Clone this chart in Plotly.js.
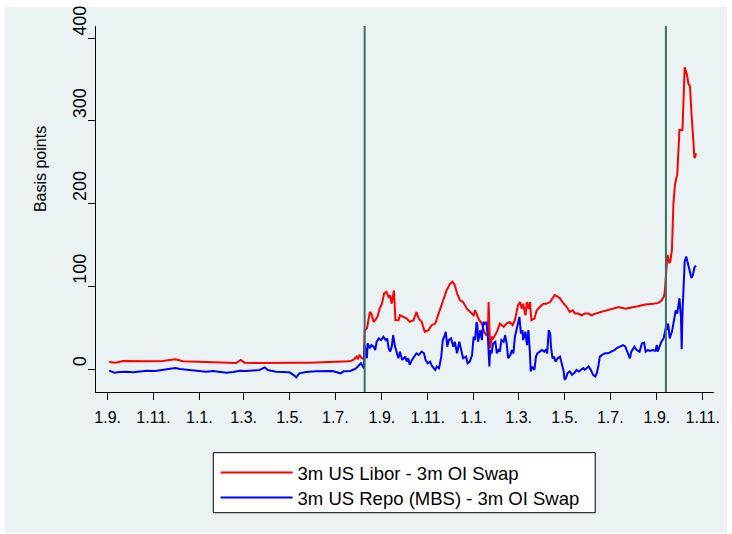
<!DOCTYPE html>
<html>
<head>
<meta charset="utf-8">
<script src="https://cdn.plot.ly/plotly-3.0.1.min.js"></script>
<style>html,body{margin:0;padding:0;background:#fff;}#chart{width:732px;height:534px;}</style>
</head>
<body>
<div id="chart"></div>
<script>
// ---- data (basis points) ----
const liborDates = [
 '2006-09-03','2006-09-12','2006-09-21','2006-10-09','2006-10-26','2006-11-13','2006-11-30','2006-12-10','2006-12-28','2007-01-14',
 '2007-02-01','2007-02-19','2007-02-25','2007-03-02','2007-03-17','2007-04-04','2007-04-22','2007-05-10','2007-05-27','2007-06-14',
 '2007-07-02','2007-07-20','2007-07-26','2007-07-29','2007-07-31','2007-08-02','2007-08-05','2007-08-08','2007-08-09','2007-08-12',
 '2007-08-14','2007-08-16','2007-08-18','2007-08-21','2007-08-23','2007-08-26','2007-08-29','2007-09-01','2007-09-04','2007-09-07',
 '2007-09-10','2007-09-12','2007-09-14','2007-09-17','2007-09-19','2007-09-23','2007-09-25','2007-09-29','2007-10-04','2007-10-08',
 '2007-10-13','2007-10-17','2007-10-20','2007-10-24','2007-10-28','2007-11-02','2007-11-06','2007-11-11','2007-11-15','2007-11-19',
 '2007-11-22','2007-11-26','2007-12-01','2007-12-04','2007-12-07','2007-12-10','2007-12-14','2007-12-18','2007-12-23','2007-12-27',
 '2008-01-01','2008-01-03','2008-01-05','2008-01-08','2008-01-12','2008-01-15','2008-01-18','2008-01-20','2008-01-21','2008-01-22',
 '2008-01-23','2008-01-25','2008-01-27','2008-02-01','2008-02-05','2008-02-10','2008-02-14','2008-02-18','2008-02-22','2008-02-25',
 '2008-02-29','2008-03-03','2008-03-05','2008-03-07','2008-03-10','2008-03-12','2008-03-14','2008-03-16','2008-03-18','2008-03-22',
 '2008-03-25','2008-03-29','2008-04-03','2008-04-07','2008-04-12','2008-04-15','2008-04-18','2008-04-21','2008-04-25','2008-04-30',
 '2008-05-04','2008-05-08','2008-05-12','2008-05-15','2008-05-19','2008-05-24','2008-05-28','2008-06-02','2008-06-06','2008-06-11',
 '2008-06-15','2008-06-24','2008-07-03','2008-07-12','2008-07-21','2008-07-29','2008-08-07','2008-08-16','2008-08-25','2008-09-03',
 '2008-09-07','2008-09-10','2008-09-11','2008-09-12','2008-09-14','2008-09-15','2008-09-17','2008-09-18','2008-09-19','2008-09-21',
 '2008-09-23','2008-09-25','2008-09-27','2008-09-28','2008-10-01','2008-10-05','2008-10-08','2008-10-11','2008-10-13','2008-10-15',
 '2008-10-17','2008-10-20','2008-10-21','2008-10-22','2008-10-23'
];
const liborOis = [
 8.5, 7.7, 9.7, 9.3, 9.3, 9.7, 11.7, 9.3, 8.9, 8.1,
 7.7, 7.3, 10.9, 7.7, 7.3, 7.7, 7.7, 7.7, 7.7, 8.1,
 8.5, 9.3, 11.7, 14.9, 12, 17.3, 13, 12, 47, 49,
 59, 69, 67, 57, 59, 63, 73, 79, 91.5, 93.5,
 87, 89, 79, 95, 59, 59, 65, 63, 61, 57,
 59, 69, 61, 57, 45, 47, 53, 55, 65, 75,
 85, 95, 103.6, 105.6, 101.5, 91.5, 83, 81, 73, 69,
 65, 71, 67, 60, 55, 45, 41, 41, 81, 39,
 25, 39, 37, 45, 55, 51, 55, 57, 53, 59,
 77, 81, 73, 79, 65, 81, 73, 81, 59, 61,
 71, 75, 79, 79, 81, 85.5, 89.5, 88, 85.5, 79,
 75, 69, 71, 67, 67, 65, 67, 67, 65, 67,
 68, 71, 73, 75, 73, 74, 76, 78, 78.5, 80,
 82.5, 87, 90, 99, 120, 138, 130, 128, 131, 144,
 200, 222, 232, 234, 289, 289, 365, 356, 345, 342,
 310, 276, 255, 257, 261
];
const repoDates = [
 '2006-09-03','2006-09-10','2006-09-17','2006-09-26','2006-10-05','2006-10-14','2006-10-23','2006-11-03','2006-11-13','2006-11-22',
 '2006-11-30','2006-12-06','2006-12-15','2006-12-24','2007-01-01','2007-01-10','2007-01-19','2007-01-28','2007-02-06','2007-02-15',
 '2007-02-24','2007-03-04','2007-03-13','2007-03-22','2007-03-29','2007-04-02','2007-04-13','2007-04-22','2007-05-01','2007-05-07',
 '2007-05-10','2007-05-14','2007-05-23','2007-06-05','2007-06-18','2007-06-27','2007-07-08','2007-07-12','2007-07-21','2007-07-28',
 '2007-07-31','2007-08-02','2007-08-04','2007-08-07','2007-08-08','2007-08-09','2007-08-12','2007-08-13','2007-08-16','2007-08-18',
 '2007-08-21','2007-08-23','2007-08-25','2007-08-28','2007-08-31','2007-09-03','2007-09-06','2007-09-08','2007-09-10','2007-09-12',
 '2007-09-14','2007-09-16','2007-09-18','2007-09-21','2007-09-23','2007-09-25','2007-09-28','2007-10-02','2007-10-04','2007-10-06',
 '2007-10-08','2007-10-11','2007-10-14','2007-10-17','2007-10-20','2007-10-24','2007-10-27','2007-10-29','2007-11-01','2007-11-04',
 '2007-11-07','2007-11-11','2007-11-13','2007-11-16','2007-11-19','2007-11-21','2007-11-23','2007-11-25','2007-11-27','2007-11-29',
 '2007-12-02','2007-12-05','2007-12-07','2007-12-10','2007-12-13','2007-12-15','2007-12-18','2007-12-22','2007-12-24','2007-12-27',
 '2007-12-30','2008-01-01','2008-01-03','2008-01-05','2008-01-06','2008-01-07','2008-01-10','2008-01-12','2008-01-14','2008-01-16',
 '2008-01-18','2008-01-20','2008-01-22','2008-01-23','2008-01-25','2008-01-27','2008-01-30','2008-02-01','2008-02-03','2008-02-05',
 '2008-02-07','2008-02-10','2008-02-12','2008-02-14','2008-02-16','2008-02-19','2008-02-21','2008-02-23','2008-02-25','2008-02-27',
 '2008-03-01','2008-03-02','2008-03-04','2008-03-06','2008-03-07','2008-03-10','2008-03-12','2008-03-14','2008-03-16','2008-03-17',
 '2008-03-19','2008-03-22','2008-03-24','2008-03-26','2008-03-29','2008-04-01','2008-04-04','2008-04-06','2008-04-08','2008-04-10',
 '2008-04-12','2008-04-13','2008-04-15','2008-04-17','2008-04-19','2008-04-22','2008-04-25','2008-04-27','2008-04-30','2008-05-01',
 '2008-05-03','2008-05-05','2008-05-08','2008-05-11','2008-05-14','2008-05-17','2008-05-20','2008-05-23','2008-05-26','2008-05-28',
 '2008-06-02','2008-06-05','2008-06-08','2008-06-11','2008-06-13','2008-06-15','2008-06-17','2008-06-20','2008-06-24','2008-06-28',
 '2008-07-03','2008-07-07','2008-07-09','2008-07-14','2008-07-18','2008-07-21','2008-07-24','2008-07-27','2008-07-29','2008-08-02',
 '2008-08-05','2008-08-09','2008-08-12','2008-08-15','2008-08-17','2008-08-20','2008-08-23','2008-08-26','2008-08-30','2008-09-01',
 '2008-09-02','2008-09-04','2008-09-07','2008-09-10','2008-09-12','2008-09-14','2008-09-15','2008-09-16','2008-09-18','2008-09-21',
 '2008-09-23','2008-09-26','2008-09-28','2008-09-30','2008-10-01','2008-10-03','2008-10-04','2008-10-05','2008-10-07','2008-10-08',
 '2008-10-10','2008-10-13','2008-10-15','2008-10-17','2008-10-19','2008-10-21','2008-10-23'
];
const repoOis = [
 -2, -4.4, -3.6, -3.2, -4, -2.8, -2, -2.4, -1.2, -0.4,
 1.2, 0, -0.8, -1.6, -2.4, -3.2, -2.4, -3.6, -4.4, -3.6,
 -2, -2.4, -1.6, -1.2, 2, -1.2, -3.2, -3.6, -4, -7.6,
 -10, -5.2, -3.6, -2.8, -2.4, -2.4, -5.2, -2.8, -2.4, 0.4,
 3, 4.8, 7, 2.5, 1, 29, 13, 31, 25, 29,
 27, 23, 33, 37, 35, 39, 35, 37, 25, 21,
 27, 41, 29, 19, 13, 21, 11, 15, 9, 13,
 5, 11, 15, 19, 17, 21, 19, 11, 7, 9,
 3, -1, 3, 1, 15, 35, 39, 45, 27, 35,
 37, 27, 33, 19, 33, 23, 13, 15, 7, 9,
 17, 39, 35, 57, 53, 33, 47, 35, 57, 55,
 57, 39, 3, 23, 19, 31, 33, 19, 23, 21,
 35, 33, 41, 31, 13, 17, 23, 19, 39, 47,
 59, 63, 43, 47, 35, 45, 29, 47, 19, -3,
 3, -1, 15, 19, 21, 23, 21, 23, 19, 47,
 43, 27, 13, 15, 9, 13, 15, 7, -3, -13,
 -11, -5, -3, -7, -5, -1, -3, -1, 1, -1,
 3, -1, -7, -9, -5, 3, 15, 17, 19, 19,
 21, 23, 25, 27, 29, 27, 21, 13, 21, 27,
 23, 21, 31, 32, 21, 23, 22, 23, 22, 29,
 21, 26, 33, 37, 45, 55, 47, 55, 37, 45,
 55, 71, 67, 79, 85.5, 63, 24, 67, 120, 130,
 136, 124, 114, 110, 114, 123, 125
];
const eventDates = ['2007-08-09', '2008-09-13'];
const xTickVals = ['2006-09-01','2006-11-01','2007-01-01','2007-03-01','2007-05-01','2007-07-01',
                   '2007-09-01','2007-11-01','2008-01-01','2008-03-01','2008-05-01','2008-07-01',
                   '2008-09-01','2008-11-01'];
const xTickText = ['1.9.','1.11.','1.1.','1.3.','1.5.','1.7.','1.9.','1.11.','1.1.','1.3.','1.5.','1.7.','1.9.','1.11.'];
const yTickVals = [0, 100, 200, 300, 400];
const yTickText = ['0', '100', '200', '300', '400'];
const seriesNames = ['3m US Libor - 3m OI Swap', '3m US Repo (MBS) - 3m OI Swap'];

const FONT = '"Liberation Sans", Arial, Helvetica, sans-serif';
const BG = '#EAF2F3';

const traces = [
  {x: liborDates, y: liborOis, type: 'scatter', mode: 'lines', name: seriesNames[0],
   legend: 'legend', line: {color: '#FF0000', width: 2}},
  {x: repoDates, y: repoOis, type: 'scatter', mode: 'lines', name: seriesNames[1],
   legend: 'legend2', line: {color: '#0000FF', width: 2}}
];

const shapes = [
  {type: 'rect', xref: 'paper', yref: 'paper', x0: -0.1472, x1: 1.021, y0: -0.3852, y1: 1.0519,
   fillcolor: BG, line: {width: 0}, layer: 'below'},
  {type: 'rect', xref: 'paper', yref: 'paper', x0: 0.1898, x1: 0.8078, y0: -0.3298, y1: -0.1658,
   fillcolor: '#FFFFFF', line: {color: '#000000', width: 1}, layer: 'below'}
];
eventDates.forEach(d => shapes.push({type: 'line', xref: 'x', yref: 'paper', x0: d, x1: d, y0: 0, y1: 1,
  line: {color: '#3A6F64', width: 2}}));

const legendBase = {xanchor: 'left', yanchor: 'top', bgcolor: 'rgba(0,0,0,0)', borderwidth: 0,
  font: {family: FONT, size: 18.5, color: '#000'}, itemwidth: 72};

// labels start at the tick (Stata style): pad short labels with figure spaces
const yTickShown = yTickText.map(t => t.padEnd(3, '\u2007'));

const layout = {
  width: 732, height: 534,
  margin: {l: 96, r: 18, t: 26, b: 142, pad: 0},
  paper_bgcolor: '#FFFFFF', plot_bgcolor: '#FFFFFF',
  font: {family: FONT, size: 16, color: '#000000'},
  showlegend: true,
  legend: Object.assign({}, legendBase, {x: 0.1935, y: -0.1695}),
  legend2: Object.assign({}, legendBase, {x: 0.1935, y: -0.2378}),
  xaxis: {type: 'date', range: ['2006-08-16 10:00', '2008-11-16'],
          tickvals: xTickVals, ticktext: xTickText, ticks: 'outside', ticklen: 7, tickwidth: 1,
          tickcolor: '#000', showline: true, linecolor: '#000', linewidth: 1, showgrid: false,
          zeroline: false, tickfont: {family: FONT, size: 16}, tickangle: 0, ticklabelstandoff: 4},
  yaxis: {range: [-27.8, 414.9], tickvals: yTickVals, ticktext: yTickShown, ticks: 'outside', ticklen: 7, tickwidth: 1,
          tickcolor: '#000', showline: true, linecolor: '#000', linewidth: 1,
          showgrid: true, gridcolor: BG, gridwidth: 1.5, zeroline: false,
          tickangle: -90, ticklabelshift: -15, ticklabelstandoff: -5, tickfont: {family: FONT, size: 18}},
  shapes: shapes,
  annotations: [{text: 'Basis points', xref: 'paper', yref: 'paper', x: -0.0906, y: 0.609,
                 xanchor: 'center', yanchor: 'middle',
                 textangle: -90, showarrow: false, font: {family: FONT, size: 16, color: '#000'}}]
};

Plotly.newPlot('chart', traces, layout, {displayModeBar: false, staticPlot: true});
</script>
</body>
</html>
